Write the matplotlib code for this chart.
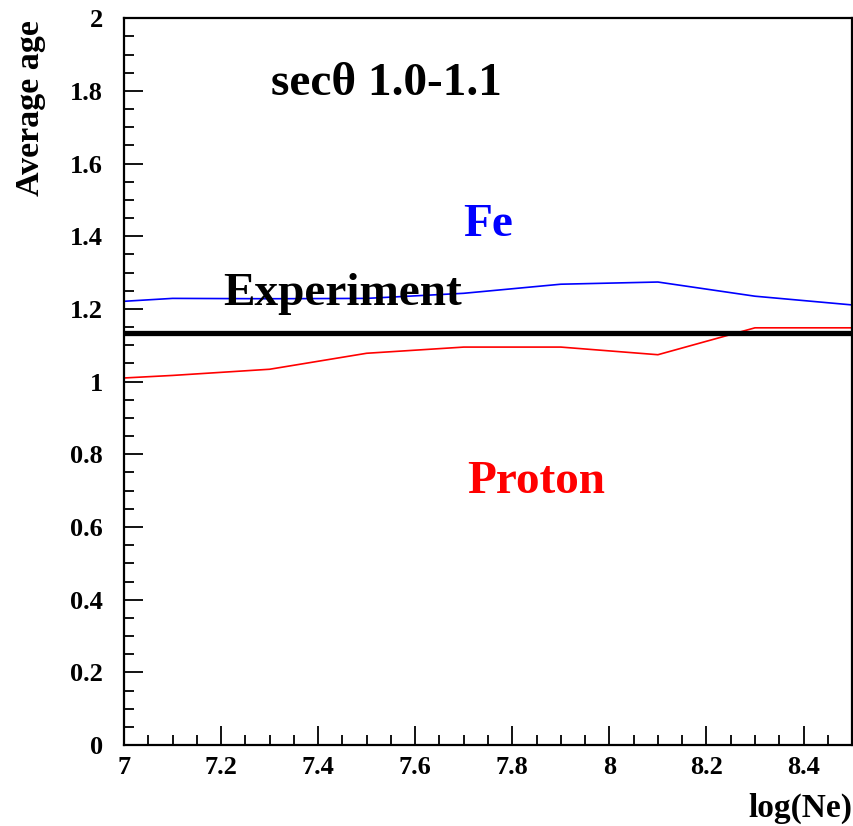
import matplotlib
matplotlib.use("Agg")
import matplotlib.pyplot as plt
from matplotlib.ticker import MultipleLocator

log_ne = [7.0, 7.1, 7.3, 7.5, 7.7, 7.9, 8.1, 8.3, 8.5]
age_fe = [1.221, 1.229, 1.228, 1.229, 1.243, 1.268, 1.274, 1.235, 1.211]
age_proton = [1.010, 1.017, 1.034, 1.078, 1.095, 1.095, 1.074, 1.148, 1.148]
age_experiment = 1.133

x_ticks = [7.0, 7.2, 7.4, 7.6, 7.8, 8.0, 8.2, 8.4]
x_tick_labels = ["7", "7.2", "7.4", "7.6", "7.8", "8", "8.2", "8.4"]
y_ticks = [0, 0.2, 0.4, 0.6, 0.8, 1.0, 1.2, 1.4, 1.6, 1.8, 2.0]
y_tick_labels = ["0", "0.2", "0.4", "0.6", "0.8", "1", "1.2", "1.4", "1.6", "1.8", "2"]

plt.rcParams["font.family"] = ["Liberation Serif", "DejaVu Serif"]
plt.rcParams["font.weight"] = "bold"

fig = plt.figure(figsize=(8.54, 8.26), dpi=100)
ax = fig.add_axes([0.1452, 0.098, 0.8525, 0.880])

ax.plot(log_ne, age_fe, color="#0000ff", lw=1.2)
ax.plot(log_ne, age_proton, color="#ff0000", lw=1.2)
ax.axhline(age_experiment, color="black", lw=3.8)

ax.set_xlim(7.0, 8.5)
ax.set_ylim(0, 2)
ax.set_xticks(x_ticks)
ax.set_xticklabels(x_tick_labels)
ax.set_yticks(y_ticks)
ax.set_yticklabels(y_tick_labels)
ax.xaxis.set_minor_locator(MultipleLocator(0.05))
ax.yaxis.set_minor_locator(MultipleLocator(0.05))
ax.tick_params(which="both", direction="in", top=False, right=False,
               width=1.3, labelsize=19)
ax.tick_params(which="major", length=14)
ax.tick_params(which="minor", length=7)
ax.tick_params(axis="x", which="major", pad=8)
ax.tick_params(axis="y", which="major", pad=15)
for lab in ax.get_xticklabels() + ax.get_yticklabels():
    lab.set_fontweight("bold")
for sp in ax.spines.values():
    sp.set_linewidth(1.6)

ax.set_ylabel("Average age", fontsize=24.5, fontweight="bold")
ax.yaxis.set_label_coords(-0.107, 0.997)
ax.yaxis.label.set_ha("right")
ax.set_xlabel("log(Ne)", fontsize=24, fontweight="bold")
ax.xaxis.set_label_coords(1.0, -0.065)
ax.xaxis.label.set_ha("right")

ax.text(7.54, 1.82, "sec\u03b8 1.0-1.1", fontsize=34, fontweight="bold",
        ha="center", va="center", color="black")
ax.text(7.75, 1.43, "Fe", fontsize=34, fontweight="bold",
        ha="center", va="center", color="#0000ff")
ax.text(7.45, 1.24, "Experiment", fontsize=34, fontweight="bold",
        ha="center", va="center", color="black")
ax.text(7.85, 0.725, "Proton", fontsize=34, fontweight="bold",
        ha="center", va="center", color="#ff0000")

fig.savefig("out.png", dpi=100)
